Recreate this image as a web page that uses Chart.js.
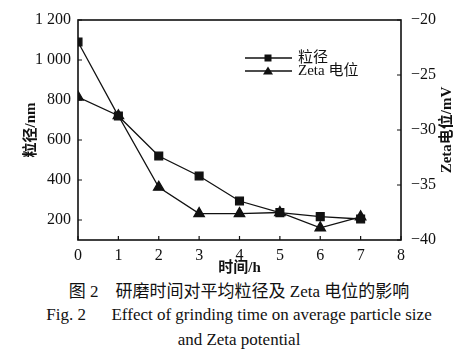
<!DOCTYPE html>
<html>
<head>
<meta charset="utf-8">
<script src="https://cdn.jsdelivr.net/npm/chart.js@4.4.0/dist/chart.umd.min.js"></script>
<style>
  body { margin: 0; background: #fff; }
  #wrap { position: relative; width: 462px; height: 352px; }
  #chart { position: absolute; left: 0; top: 0; }
  .cap { position: absolute; left: 0; width: 478px; text-align: center; color: #111; line-height: 20px;
         font-family: 'Liberation Serif', 'Noto Sans CJK SC', serif; font-size: 17px; white-space: pre; }
</style>
</head>
<body>
<div id="wrap">
  <canvas id="chart" width="462" height="280"></canvas>
  <div class="cap" style="top:282px">图 2    研磨时间对平均粒径及 Zeta 电位的影响</div>
  <div class="cap" style="top:305px">Fig. 2      Effect of grinding time on average particle size</div>
  <div class="cap" style="top:330px">and Zeta potential</div>
</div>
<script>
// data
const hours = [0, 1, 2, 3, 4, 5, 6, 7];
const particleSize = [1090, 720, 520, 420, 295, 237, 217, 205];   // nm
const zetaPotential = [-27.0, -28.7, -35.2, -37.6, -37.6, -37.5, -38.9, -37.9]; // mV
const sizeTicks = [200, 400, 600, 800, 1000, 1200];
const seriesNames = ['粒径', 'Zeta 电位'];

const serif = "'Liberation Serif', 'Noto Sans CJK SC', serif";

const data = {
    datasets: [
        {
            label: seriesNames[0],
            data: hours.map((h, i) => ({ x: h, y: particleSize[i] })),
            yAxisID: 'y',
            borderColor: '#111',
            backgroundColor: '#111',
            borderWidth: 1.3,
            pointStyle: 'rect',
            pointRadius: 5.5,
        },
        {
            label: seriesNames[1],
            data: hours.map((h, i) => ({ x: h, y: zetaPotential[i] })),
            yAxisID: 'y1',
            borderColor: '#111',
            backgroundColor: '#111',
            borderWidth: 1.3,
            pointStyle: 'triangle',
            pointRadius: 6,
        },
    ]
};

// frame, inward ticks, legend and axis titles
const decor = {
    id: 'decor',
    afterDraw(chart) {
        const { ctx, chartArea: a, scales } = chart;
        ctx.save();
        ctx.strokeStyle = '#111';
        ctx.lineWidth = 1.6;
        ctx.strokeRect(a.left, a.top, a.right - a.left, a.bottom - a.top);

        ctx.lineWidth = 1.2;
        ctx.beginPath();
        scales.x.ticks.forEach(t => {
            const x = scales.x.getPixelForValue(t.value);
            ctx.moveTo(x, a.bottom); ctx.lineTo(x, a.bottom - 4);
        });
        scales.y.ticks.forEach(t => {
            const y = scales.y.getPixelForValue(t.value);
            ctx.moveTo(a.left, y); ctx.lineTo(a.left + 4, y);
        });
        scales.y1.ticks.forEach(t => {
            const y = scales.y1.getPixelForValue(t.value);
            ctx.moveTo(a.right, y); ctx.lineTo(a.right - 4, y);
        });
        ctx.stroke();

        // legend
        ctx.font = '15px ' + serif;
        ctx.fillStyle = '#111';
        ctx.textBaseline = 'middle';
        chart.data.datasets.forEach((ds, i) => {
            const y = 58 + i * 13;
            ctx.lineWidth = 1.3;
            ctx.beginPath(); ctx.moveTo(245, y); ctx.lineTo(292, y); ctx.stroke();
            const cx = 268;
            ctx.beginPath();
            if (ds.pointStyle === 'rect') {
                ctx.rect(cx - 3.5, y - 3.5, 7, 7);
            } else {
                ctx.moveTo(cx, y - 4.5); ctx.lineTo(cx + 5, y + 3.5); ctx.lineTo(cx - 5, y + 3.5); ctx.closePath();
            }
            ctx.fill();
            ctx.fillText(ds.label, 298, y);
        });

        // axis titles
        ctx.font = 'bold 15px ' + serif;
        ctx.textAlign = 'center';
        ctx.fillText('时间/h', (a.left + a.right) / 2, 268);
        ctx.save();
        ctx.translate(31, (a.top + a.bottom) / 2);
        ctx.rotate(-Math.PI / 2);
        ctx.fillText('粒径/nm', 0, 0);
        ctx.restore();
        ctx.save();
        ctx.translate(447, (a.top + a.bottom) / 2);
        ctx.rotate(-Math.PI / 2);
        ctx.fillText('Zeta电位/mV', 0, 0);
        ctx.restore();
        ctx.restore();
    }
};

const config = {
    type: 'line',
    data,
    options: {
        responsive: false,
        animation: false,
        layout: { padding: { top: 20, left: 0, right: 0, bottom: 0 } },
        plugins: {
            legend: { display: false },
            tooltip: { enabled: false },
        },
        scales: {
            x: {
                type: 'linear',
                min: 0,
                max: 8,
                afterFit: s => { s.height = 40; },
                grid: { display: false, drawTicks: false },
                border: { display: false },
                ticks: { stepSize: 1, padding: 6, color: '#111', font: { family: serif, size: 16 } },
            },
            y: {
                position: 'left',
                min: 100,
                max: 1200,
                afterFit: s => { s.width = 78; },
                afterBuildTicks: s => { s.ticks = sizeTicks.map(v => ({ value: v })); },
                grid: { display: false, drawTicks: false },
                border: { display: false },
                ticks: {
                    padding: 7, color: '#111', font: { family: serif, size: 16 },
                    callback: v => v >= 1000 ? Math.floor(v / 1000) + ' ' + String(v % 1000).padStart(3, '0') : String(v),
                },
            },
            y1: {
                position: 'right',
                min: -40,
                max: -20,
                afterFit: s => { s.width = 61; },
                grid: { display: false, drawTicks: false },
                border: { display: false },
                ticks: {
                    stepSize: 5, padding: 10, color: '#111', font: { family: serif, size: 16 },
                    callback: v => '−' + Math.abs(v),
                },
            },
        }
    },
    plugins: [decor]
};

const chart = new Chart(document.getElementById('chart'), config);
</script>
</body>
</html>
